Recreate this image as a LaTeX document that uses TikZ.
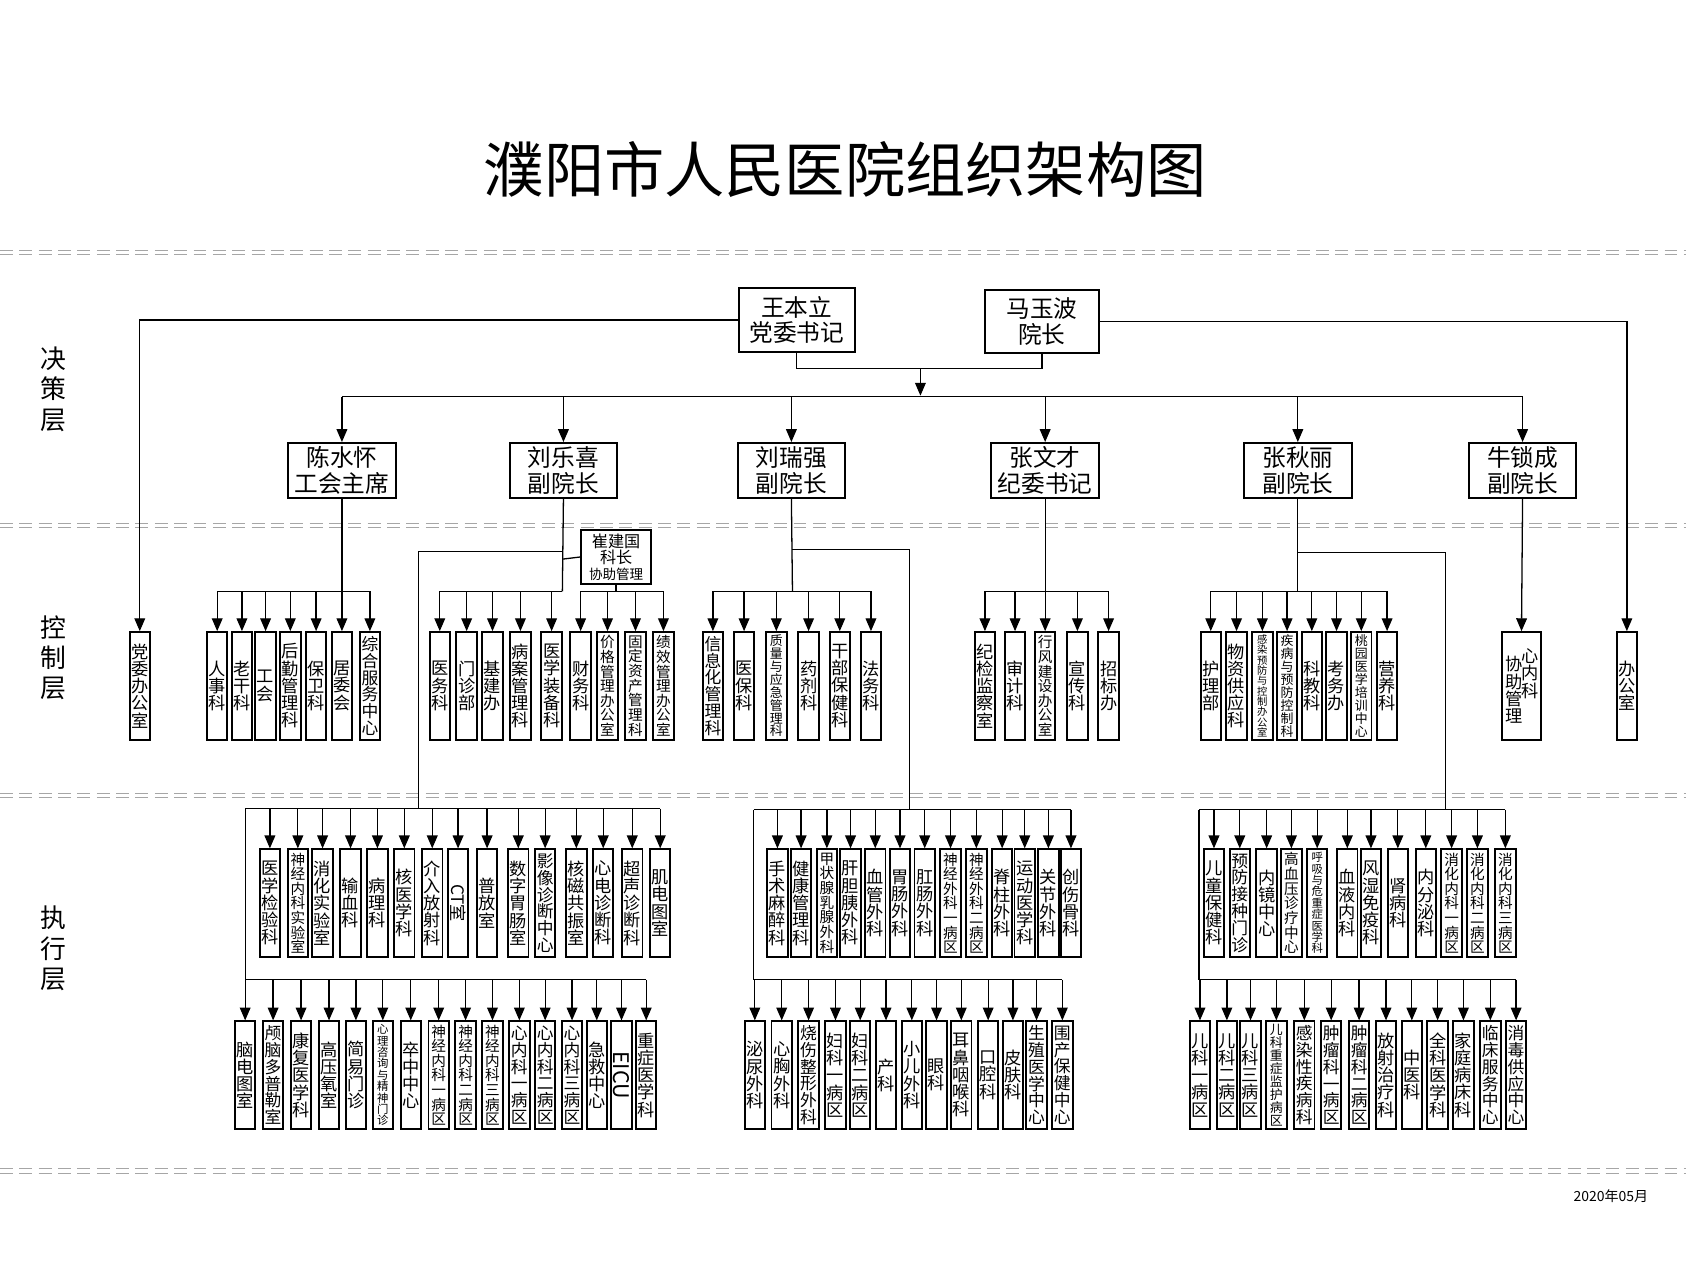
\documentclass[tikz,border=0pt]{standalone}
\usepackage{fontspec}
\usepackage{graphicx}
\setmainfont{Noto Sans CJK SC}
\XeTeXlinebreaklocale "zh"
\XeTeXlinebreakskip=0pt plus 1pt
\usetikzlibrary{arrows.meta}
\tikzset{
 vb/.style={draw, line width=0.9pt, minimum width=9.5pt, minimum height=50pt, inner sep=0pt, anchor=north, align=center, text width=#1pt, font=\fontsize{#1pt}{#1pt}\selectfont},
 arr/.style={line width=0.6pt, -{Triangle[width=5pt,length=6pt]}},
 ln/.style={line width=0.6pt},
 lead/.style={draw, line width=0.9pt, minimum width=50pt, minimum height=25.5pt, inner sep=0pt, align=center, font=\fontsize{11pt}{12pt}\selectfont},
 sep/.style={gray!70, line width=0.5pt, dash pattern=on 6pt off 3pt},
 layer/.style={align=center, text width=12pt, font=\fontsize{12pt}{14pt}\selectfont}
}
\newcommand\grp[4]{\foreach \x/\s/\t [count=\i] in {#4}{\node[vb=\s] (#1\i) at (\x,#3) {\t}; \draw[arr] (\x,#2) -- (#1\i.north);}}
\begin{document}
\begin{tikzpicture}[x=0.5pt,y=-0.5pt]
\useasboundingbox (0,0) rectangle (1568,1194);
\fill[white] (0,0) rectangle (1568,1194);
% separators
\foreach \yy in {233,487,738,1087}{\draw[sep] (0,\yy) -- (1568,\yy); \draw[sep] (0,\yy+4) -- (1568,\yy+4);}
\node[font=\fontsize{28pt}{30pt}\selectfont] (title) at (786,158) {濮阳市人民医院组织架构图};
\node[layer] (L1) at (50,362) {决策层};
\node[layer] (L2) at (50,612) {控制层};
\node[layer] (L3) at (50,882) {执行层};
\node[font=\fontsize{6.5pt}{7pt}\selectfont] (date) at (1498,1112) {2020年05月};
% top
\node[lead, minimum width=54pt, minimum height=29.5pt] (wang) at (741,297.5) {王本立\\党委书记};
\node[lead, minimum width=53pt, minimum height=29pt] (ma) at (969,299) {马玉波\\院长};
\coordinate (j) at (856,343);
\draw[ln] (wang.south) |- (j) -| (ma.south);
\draw[arr] (j) -- (856,368);
\node[lead] (chen) at (318,437.5) {陈水怀\\工会主席};
\node[lead] (liule) at (524,437.5) {刘乐喜\\副院长};
\node[lead] (liurui) at (736,437.5) {刘瑞强\\副院长};
\node[lead] (zhangwen) at (972,437.5) {张文才\\纪委书记};
\node[lead] (zhangqiu) at (1207,437.5) {张秋丽\\副院长};
\node[lead] (niu) at (1416,437.5) {牛锁成\\副院长};
\draw[ln] (318,369) -- (1416,369);
\foreach \n in {chen,liule,liurui,zhangwen,zhangqiu,niu}{\draw[arr] (\n.north |- 0,369) -- (\n.north);}
% side offices
\node[vb=8] (dangwei) at (130,587) {党委办公室};
\node[vb=8] (bangong) at (1513,587) {办公室};
\draw[arr] (wang.west) -| (dangwei.north);
\draw[arr] (ma.east) -| (bangong.north);
% control layer
\draw[ln] (chen.south) -- (318,550);
\draw[ln] (202,550) -- (344,550);
\grp{c}{550}{587}{202/8/人事科,225/8/老干科,247/8/工会,270/8/后勤管理科,294/8/保卫科,318/8/居委会,344/7.8/综合服务中心}
\draw[ln] (liule.south) -- (523,550);
\draw[ln] (409,550) -- (523,550);
\grp{l}{550}{587}{409/8/医务科,434/8/门诊部,458/8/基建办,484/8/病案管理科,513/8/医学装备科}
\node[draw, line width=0.9pt, minimum width=32.5pt, minimum height=25pt, inner sep=0pt, align=center, font=\fontsize{7.5pt}{7.5pt}\selectfont] (cui) at (573,518) {崔建国\\科长\\{\fontsize{6.3pt}{6.5pt}\selectfont 协助管理}};
\draw[ln] (523,520) -- (cui.west);
\draw[ln] (cui.south) -- (573,550);
\draw[ln] (540,550) -- (617,550);
\grp{q}{550}{587}{540/8/财务科,565/6.8/价格管理办公室,591/6.8/固定资产管理科,617/6.8/绩效管理办公室}
\draw[ln] (liurui.south) -- (737,550);
\draw[ln] (663,550) -- (810,550);
\grp{r}{550}{587}{663/7.8/信息化管理科,692/8/医保科,722/6/质量与应急管理科,752/8/药剂科,781/8/干部保健科,810/8/法务科}
\draw[ln] (zhangwen.south) -- (972,550);
\draw[ln] (916,550) -- (1031,550);
\grp{w}{550}{587}{916/8/纪检监察室,944/8/审计科,972/6.8/行风建设办公室,1002/8/宣传科,1031/8/招标办}
\draw[ln] (zhangqiu.south) -- (1207,550);
\draw[ln] (1126,550) -- (1290,550);
\grp{s}{550}{587}{1126/8/护理部,1150/8/物资供应科,1174/4.8/感染预防与控制办公室,1197/6/疾病与预防控制科,1220/8/科教科,1243/8/考务办,1266/6/桃园医学培训中心,1290/8/营养科}
\node[draw, line width=0.9pt, minimum width=18pt, minimum height=50pt, inner sep=0pt, anchor=north] (xie) at (1415,587) {};
\node[align=center, text width=8pt, font=\fontsize{8pt}{8pt}\selectfont, inner sep=0pt, anchor=north] (xie1) at (1408,610) {协助管理};
\node[align=center, text width=8pt, font=\fontsize{8pt}{8pt}\selectfont, inner sep=0pt, anchor=north] (xie2) at (1423,603) {心内科};
\draw[arr] (niu.south) -- (xie.north);
% exec left
\draw[ln] (523,513) -- (389,513) -- (389,752);
\draw[ln] (228,752) -- (614,752);
\grp{a}{752}{789}{251/8/医学检验科,277/6.8/神经内科实验室,300/8/消化实验室,326/8/输血科,351/8/病理科,376/8/核医学科,402/8/介入放射科,426/8/\rotatebox{-90}{CT室},453/8/普放室,482/8/数字胃肠室,507/7.8/影像诊断中心,536/8/核磁共振室,561/8/心电诊断科,588/8/超声诊断科,614/8/肌电图室}
\draw[ln] (228,752) -- (228,911) -- (601,911);
\grp{b}{911}{949}{228/8/脑电图室,254/7.8/颅脑多普勒室,280/8/康复医学科,306/8/高压氧室,331/8/简易门诊,356/5.3/心理咨询与精神门诊,382/8/卒中中心,408/6.8/神经内科一病区,433/6.8/神经内科二病区,458/6.8/神经内科三病区,483/7.8/心内科一病区,507/7.8/心内科二病区,532/7.8/心内科三病区,555/8/急救中心,578/10/\rotatebox{-90}{EICU},601/8/重症医学科}
% exec middle
\draw[ln] (737,511) -- (846,511) -- (846,753);
\draw[ln] (701,753) -- (996,753);
\grp{m}{753}{789}{723/8/手术麻醉科,745/8/健康管理科,769/6.8/甲状腺乳腺外科,791/8/肝胆胰外科,814/8/血管外科,837/8/胃肠外科,860/8/肛肠外科,884/6.8/神经外科一病区,908/6.8/神经外科二病区,932/8/脊柱外科,953/8/运动医学科,975/8/关节外科,996/8/创伤骨科}
\draw[ln] (701,753) -- (701,911) -- (988,911);
\grp{n}{911}{949}{702/8/泌尿外科,727/8/心胸外科,752/7.8/烧伤整形外科,777/8/妇科一病区,800/8/妇科二病区,824/8/产科,848/8/小儿外科,871/8/眼科,894/8/耳鼻咽喉科,919/8/口腔科,942/8/皮肤科,964/7.8/生殖医学中心,988/7.8/围产保健中心}
% exec right
\draw[ln] (1207,514) -- (1344,514) -- (1344,753);
\draw[ln] (1115,753) -- (1400,753);
\grp{x}{753}{789}{1129/8/儿童保健科,1153/7.8/预防接种门诊,1178/8/内镜中心,1201/6.8/高血压诊疗中心,1225/5.3/呼吸与危重症医学科,1253/8/血液内科,1275/8/风湿免疫科,1300/8/肾病科,1326/8/内分泌科,1350/6.8/消化内科一病区,1374/6.8/消化内科二病区,1400/6.8/消化内科三病区}
\draw[ln] (1115,753) -- (1115,911) -- (1410,911);
\grp{y}{911}{949}{1116/8/儿科一病区,1141/8/儿科二病区,1163/8/儿科三病区,1187/6/儿科重症监护病区,1213/7.8/感染性疾病科,1238/7.8/肿瘤科一病区,1264/7.8/肿瘤科二病区,1289/8/放射治疗科,1313/8/中医科,1337/8/全科医学科,1361/8/家庭病床科,1386/7.8/临床服务中心,1410/7.8/消毒供应中心}
\end{tikzpicture}
\end{document}
